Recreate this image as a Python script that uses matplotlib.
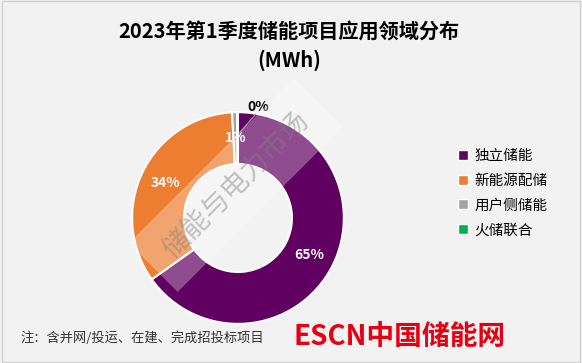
import matplotlib.pyplot as plt

plt.rcParams['font.family'] = ['Noto Sans CJK SC', 'DejaVu Sans']

# 应用领域 / 储能规模 (MWh)
categories = ["独立储能", "新能源配储", "用户侧储能", "火储联合"]
values_mwh = [26780, 13950, 330, 40]
colors = ["#600060", "#ed7d31", "#a5a5a5", "#00b050"]

title = "2023年第1季度储能项目应用领域分布\n(MWh)"
note = "注：含并网/投运、在建、完成招投标项目"

fig = plt.figure(figsize=(5.82, 3.63), dpi=100)
fig.patch.set_facecolor("#f2f2f2")

# border round the picture
fig.add_artist(plt.Rectangle((0.003, 0.004), 0.994, 0.992, transform=fig.transFigure,
                             fill=False, edgecolor="#d0d0d0", linewidth=1))

ax = fig.add_axes([0.2234, 0.1019, 0.371, 0.595])
ax.set_facecolor("#f2f2f2")

wedges, texts, autotexts = ax.pie(
    values_mwh, colors=colors, startangle=90, counterclock=False,
    radius=1.0, autopct="%.0f%%", pctdistance=0.76,
    wedgeprops=dict(width=0.49, edgecolor="white", linewidth=1.5),
    textprops=dict(color="white", fontsize=10, fontweight="bold"))
ax.set_xlim(-1.02, 1.02)
ax.set_ylim(-1.02, 1.02)
ax.set_aspect("equal")
ax.axis("off")

# the 0% label sits outside with a leader line
last = autotexts[-1]
lx, ly = last.get_position()
last.set_position((lx + 0.19, ly + 0.29))
last.set_color("black")
ax.plot([lx + 0.17, lx + 0.02], [ly + 0.22, ly + 0.05], color="#a5a5a5", linewidth=0.8)

fig.text(0.497, 0.875, title, ha="center", va="center", fontsize=14.5,
         fontweight="bold", linespacing=1.45)

# legend
handles = [plt.Line2D([], [], marker="s", linestyle="", markersize=6.5,
                      markerfacecolor=c, markeredgecolor="white") for c in colors]
fig.legend(handles, categories, loc="center left", bbox_to_anchor=(0.765, 0.468),
           frameon=False, fontsize=10.5, handlelength=0.6, handletextpad=0.5,
           labelspacing=0.75)

fig.text(0.035, 0.068, note, ha="left", va="center", fontsize=9.5, color="#333333")

# watermark
fig.text(0.405, 0.49, "储能与电力市场", ha="center", va="center", rotation=45,
         fontsize=20, color="#808080", alpha=0.45,
         bbox=dict(boxstyle="square,pad=0.7", facecolor="white", edgecolor="none", alpha=0.3))

# logo text
fig.text(0.868, 0.072, "ESCN中国储能网", ha="right", va="center", fontsize=20,
         fontweight="bold", color="#e60012")

fig.savefig("out.png", dpi=100, facecolor=fig.get_facecolor())
